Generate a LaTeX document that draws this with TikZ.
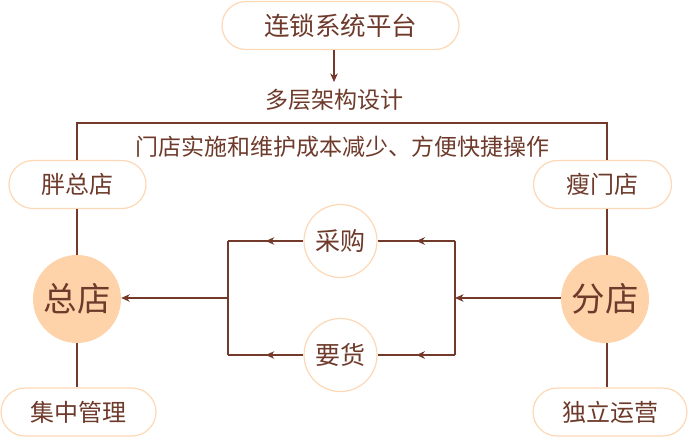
\documentclass[tikz,border=0pt]{standalone}
\usepackage{fontspec}
\newfontfamily\cjk{Noto Sans CJK SC}
\usetikzlibrary{arrows.meta,decorations.markings}
\definecolor{tbrown}{HTML}{6E3A2B}
\definecolor{lbrown}{HTML}{733A2C}
\definecolor{peach}{HTML}{FFD3A9}
\definecolor{pborder}{HTML}{FDD8B6}
\tikzset{
  pill/.style={draw=pborder, line width=1.2pt, rounded corners=24pt, fill=white,
    minimum height=48pt, inner sep=0pt, text=tbrown},
  hub/.style={circle, fill=peach, minimum size=88pt, inner sep=0pt, text=tbrown,
    font=\cjk\fontsize{33.5}{38}\selectfont},
  flowcirc/.style={circle, draw=pborder, line width=1.2pt, fill=white, minimum size=73pt,
    inner sep=0pt, text=tbrown, font=\cjk\fontsize{25}{30}\selectfont},
  plain/.style={text=tbrown, inner sep=0pt},
  conn/.style={draw=lbrown, line width=1.2pt},
  tip/.style={-{Stealth[length=8.5pt,width=7.5pt,inset=2.5pt]}},
  midarr/.style={postaction={decorate}, decoration={markings,
    mark=at position 0.5 with {\arrow{Stealth[length=8.5pt,width=7.5pt,inset=2.5pt]}}}}
}
\begin{document}
\begin{tikzpicture}[x=1pt,y=-1pt, font=\cjk\fontsize{24}{28}\selectfont]
\useasboundingbox (0,0) rectangle (688,447);
% nodes
\node[pill, minimum width=237pt, font=\cjk\fontsize{25.5}{30}\selectfont] (top) at (340.5,25.5) {连锁系统平台};
\node[plain, font=\cjk\fontsize{23}{27}\selectfont] (layer) at (334.5,99.5) {多层架构设计};
\node[plain, font=\cjk\fontsize{23}{27}\selectfont] (cost) at (342,147) {门店实施和维护成本减少、方便快捷操作};
\node[pill, minimum width=137pt] (fat) at (77.5,184.5) {胖总店};
\node[pill, minimum width=138pt] (thin) at (602.5,184.5) {瘦门店};
\node[hub] (hq) at (77,299) {总店};
\node[hub] (br) at (605,299) {分店};
\node[pill, minimum width=155pt] (central) at (78.5,412) {集中管理};
\node[pill, minimum width=154pt] (indep) at (610,412) {独立运营};
\node[flowcirc] (buy) at (340.5,241) {采购};
\node[flowcirc] (req) at (340.5,355) {要货};
% helper coordinates
\coordinate (lc) at (77,123);
\coordinate (rc) at (607,123);
\coordinate (lb) at (228,298);
\coordinate (rb) at (455,298);
\coordinate (ah) at (334,82);
% connectors
\draw[conn, tip] (top.south -| ah) -- (ah);
\draw[conn] (lc |- fat.north) -- (lc) -- (rc) -- (rc |- thin.north);
\draw[conn] (lc |- fat.south) -- (lc |- hq.north);
\draw[conn] (lc |- hq.south) -- (lc |- central.north);
\draw[conn] (rc |- thin.south) -- (rc |- br.north);
\draw[conn] (rc |- br.south) -- (rc |- indep.north);
\draw[conn, tip] (br.west |- rb) -- (rb);
\draw[conn] (rb |- buy) -- (rb |- req);
\draw[conn] (lb |- buy) -- (lb |- req);
\draw[conn, midarr] (rb |- buy) -- (buy.east);
\draw[conn, midarr] (rb |- req) -- (req.east);
\draw[conn, midarr] (buy.west) -- (lb |- buy);
\draw[conn, midarr] (req.west) -- (lb |- req);
\draw[conn, tip] (lb) -- (hq.east |- lb);
\end{tikzpicture}
\end{document}
